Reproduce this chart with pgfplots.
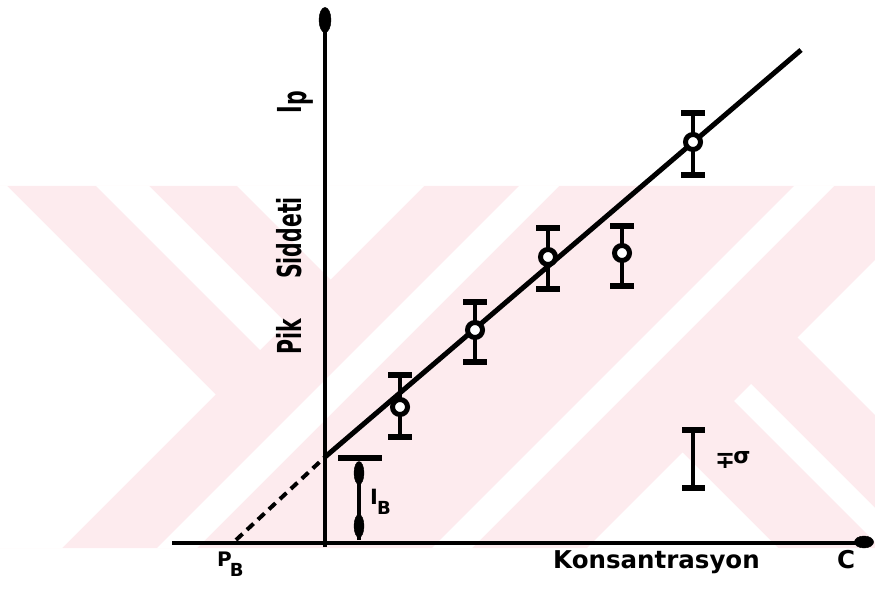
\documentclass[border=0pt]{standalone}
\usepackage{fontspec}
\setmainfont{DejaVu Sans}
\usepackage{graphicx}
\usepackage{pgfplots}
\pgfplotsset{compat=1.18}
\usetikzlibrary{arrows.meta}
\definecolor{wm}{RGB}{253,235,238}
\begin{document}
\begin{tikzpicture}
\begin{axis}[width=875pt,height=593pt,scale only axis,
 xmin=0,xmax=875,ymin=0,ymax=593,y dir=reverse,
 axis line style={draw=none},xtick=\empty,ytick=\empty,clip=false]
\addplot[fill=wm,draw=none] coordinates {(0,186) (875,186) (875,548) (0,548) (0,186)};
\addplot[fill=white,draw=none] coordinates {(0,186) (7,186) (215.5,394.5) (62,548) (0,548) (0,186)};
\addplot[fill=white,draw=none] coordinates {(96,186) (149,186) (286.5,323.5) (260,350) (96,186)};
\addplot[fill=white,draw=none] coordinates {(237,186) (424,186) (330.5,279.5) (237,186)};
\addplot[fill=white,draw=none] coordinates {(519,186) (559,186) (197,548) (157,548) (519,186)};
\addplot[fill=white,draw=none] coordinates {(794,186) (834,186) (472,548) (432,548) (794,186)};
\addplot[fill=white,draw=none] coordinates {(682.5,452.5) (778,548) (587,548) (682.5,452.5)};
\addplot[fill=white,draw=none] coordinates {(734,401) (751,384) (875,508) (875,542) (734,401)};
\addplot[fill=white,draw=none] coordinates {(797.5,337.5) (875,260) (875,415) (797.5,337.5)};
% axes with blob arrowheads
\addplot[line width=4.5pt] coordinates {(172,543) (866,543)};
\addplot[line width=4.5pt] coordinates {(325,547) (325,12)};
\addplot[only marks,mark=*,mark size=6pt,mark options={xscale=1.6,fill=black}] coordinates {(864,542)};
\addplot[only marks,mark=*,mark size=6pt,mark options={yscale=2.1,fill=black}] coordinates {(325,20)};
% fitted line
\addplot[line width=5pt] coordinates {(325,457) (801,50)};
\addplot[line width=4pt,dash pattern=on 9pt off 6pt] coordinates {(236,540) (325,457)};
% error bars
\addplot[line width=4pt] coordinates {(400,375) (400,437)};
\addplot[line width=5.5pt] coordinates {(388,375) (412,375)};
\addplot[line width=5.5pt] coordinates {(388,437) (412,437)};
\addplot[line width=4pt] coordinates {(475,302) (475,362)};
\addplot[line width=5.5pt] coordinates {(463,302) (487,302)};
\addplot[line width=5.5pt] coordinates {(463,362) (487,362)};
\addplot[line width=4pt] coordinates {(548,228) (548,289)};
\addplot[line width=5.5pt] coordinates {(536,228) (560,228)};
\addplot[line width=5.5pt] coordinates {(536,289) (560,289)};
\addplot[line width=4pt] coordinates {(622,226) (622,286)};
\addplot[line width=5.5pt] coordinates {(610,226) (634,226)};
\addplot[line width=5.5pt] coordinates {(610,286) (634,286)};
\addplot[line width=4pt] coordinates {(693,113) (693,175)};
\addplot[line width=5.5pt] coordinates {(681,113) (705,113)};
\addplot[line width=5.5pt] coordinates {(681,175) (705,175)};
\addplot[only marks,mark=*,mark size=7.5pt,mark options={fill=white,draw=black,line width=5pt}] coordinates {(400,407) (475,330) (548,257) (622,253) (693,142)};
% sigma bar
\addplot[line width=4pt] coordinates {(693,430) (693,488)};
\addplot[line width=5.5pt] coordinates {(682,430) (705,430)};
\addplot[line width=5.5pt] coordinates {(682,488) (705,488)};
% I_B
\addplot[line width=5.5pt] coordinates {(338,458) (382,458)};
\addplot[line width=4pt] coordinates {(359,462) (359,540)};
\addplot[only marks,mark=*,mark size=5pt,mark options={yscale=2.3,fill=black}] coordinates {(359,473) (359,526)};
\coordinate (kl) at (axis cs:553,569);
\coordinate (cl) at (axis cs:837,569);
\coordinate (pb) at (axis cs:217,567);
\coordinate (ib) at (axis cs:370,505);
\coordinate (sg) at (axis cs:715,469);
\coordinate (y1) at (axis cs:301,337);
\coordinate (y2) at (axis cs:301,238);
\coordinate (y3) at (axis cs:301,102);
\end{axis}
\node[inner sep=0pt,anchor=base west] at (kl) {\fontsize{24.5}{24.5}\selectfont\bfseries Konsantrasyon};
\node[inner sep=0pt,anchor=base west] at (cl) {\fontsize{24.5}{24.5}\selectfont\bfseries C};
\node[inner sep=0pt,anchor=base west] at (pb) {\fontsize{20}{20}\selectfont\bfseries P\kern-2pt\raisebox{-10pt}{\fontsize{18}{18}\selectfont B}};
\node[inner sep=0pt,anchor=base west] at (ib) {\fontsize{21}{21}\selectfont\bfseries I\kern-1pt\raisebox{-10pt}{\fontsize{18}{18}\selectfont B}};
\node[inner sep=0pt,anchor=base west] at (sg) {\fontsize{24}{24}\selectfont\bfseries ∓\kern-2pt\raisebox{5pt}{\fontsize{22}{22}\selectfont σ}};
\node[inner sep=0pt,rotate=90,anchor=base] at (y1) {\scalebox{0.62}[1]{\fontsize{33}{33}\selectfont\bfseries Pik}};
\node[inner sep=0pt,rotate=90,anchor=base] at (y2) {\scalebox{0.62}[1]{\fontsize{33}{33}\selectfont\bfseries Siddeti}};
\node[inner sep=0pt,rotate=90,anchor=base] at (y3) {\scalebox{0.62}[1]{\fontsize{33}{33}\selectfont\bfseries I\raisebox{-5pt}{p}}};
\end{tikzpicture}
\end{document}
